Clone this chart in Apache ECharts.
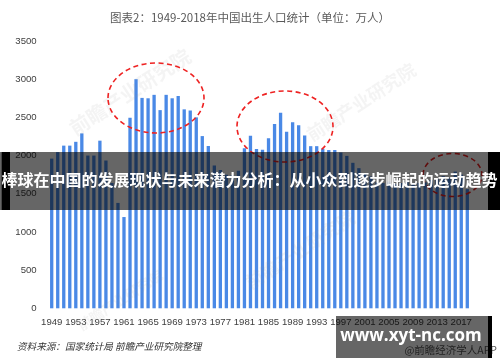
<!DOCTYPE html>
<html>
<head>
<meta charset="utf-8">
<script src="https://cdn.jsdelivr.net/npm/echarts@6/dist/echarts.min.js"></script>
<style>
html,body{margin:0;padding:0;background:#fff;}
#chart{width:500px;height:362px;}
</style>
</head>
<body>
<div id="chart"></div>
<script>
// ---- data ----
var years = [];
for (var y = 1949; y <= 2018; y++) { years.push(String(y)); }
var births = [
  1960, 2045, 2130, 2130, 2180, 2290, 2000, 2000, 2195, 1935,
  1640, 1380, 1195, 2495, 3000, 2755, 2750, 2795, 2595, 2795,
  2750, 2780, 2605, 2590, 2500, 2255, 2125, 1870, 1810, 1750,
  1745, 1800, 2095, 2260, 2085, 2075, 2228, 2412, 2560, 2313,
  2435, 2397, 2263, 2123, 2123, 2090, 2072, 2073, 2040, 1996,
  1905, 1835, 1770, 1725, 1650, 1640, 1660, 1630, 1640, 1650,
  1640, 1640, 1650, 1680, 1690, 1730, 1700, 1790, 1750, 1560
];
var yTicks = [0, 500, 1000, 1500, 2000, 2500, 3000, 3500];
var titleText = '图表2：1949-2018年中国出生人口统计（单位：万人）';
var sourceText = '资料来源：国家统计局 前瞻产业研究院整理';
var bannerText = '棒球在中国的发展现状与未来潜力分析：从小众到逐步崛起的运动趋势';
var siteText = 'www.xyt-nc.com';
var appText = '@前瞻经济学人APP';
var watermarkText = '前瞻产业研究院';

var chart = echarts.init(document.getElementById('chart'), null, {renderer: 'canvas'});

var dashRed = {stroke: '#ee2222', fill: 'none', lineWidth: 1.6, lineDash: [5, 3.5]};

function wm(x, y, size) {
  return {
    type: 'text', x: x, y: y, rotation: 33 * Math.PI / 180, z: 50, silent: true,
    style: {text: watermarkText, fill: 'rgba(150,150,150,0.10)', font: 'bold ' + size + 'px "Noto Sans CJK SC"', align: 'center', verticalAlign: 'middle'}
  };
}

var option = {
  animation: false,
  backgroundColor: '#ffffff',
  title: {
    text: titleText,
    left: 'center',
    top: 7,
    textStyle: {fontSize: 11.5, fontWeight: 'normal', color: '#595959', fontFamily: '"Noto Sans CJK SC", sans-serif'}
  },
  grid: {left: 48.7, right: 29.7, top: 41, bottom: 53.7, containLabel: false},
  xAxis: {
    type: 'category',
    data: years,
    axisLine: {show: false},
    axisTick: {show: false},
    axisLabel: {interval: 3, margin: 9, fontSize: 9.6, color: '#404040', fontFamily: '"Liberation Sans", Arial, sans-serif'}
  },
  yAxis: {
    type: 'value',
    min: yTicks[0],
    max: yTicks[yTicks.length - 1],
    interval: yTicks[1] - yTicks[0],
    axisLine: {show: false},
    axisTick: {show: false},
    splitLine: {show: false},
    axisLabel: {margin: 12, fontSize: 9.6, color: '#404040', fontFamily: '"Liberation Sans", Arial, sans-serif',
      formatter: function (v) { return String(v); }}
  },
  series: [{
    type: 'bar',
    data: births,
    barWidth: '55%',
    itemStyle: {color: '#4a89e6'}
  }],
  graphic: [
    wm(130, 92, 20),
    wm(361, 102, 18),
    wm(300, 250, 18),
    wm(120, 300, 14),
    {type: 'ellipse', z: 60, silent: true, shape: {cx: 156, cy: 98, rx: 48, ry: 35}, style: dashRed},
    {type: 'ellipse', z: 60, silent: true, shape: {cx: 285, cy: 126.5, rx: 48, ry: 35.5}, style: dashRed},
    {type: 'ellipse', z: 60, silent: true, shape: {cx: 452.5, cy: 175, rx: 29.5, ry: 21.5}, style: dashRed},
    // banner overlay
    {type: 'rect', z: 100, silent: true, shape: {x: 0, y: 152, width: 500, height: 58}, style: {fill: 'rgba(0,0,0,0.6)'}},
    {type: 'rect', z: 101, silent: true, shape: {x: 1.7, y: 152, width: 8.3, height: 58}, style: {fill: '#000'}},
    {type: 'rect', z: 101, silent: true, shape: {x: 488, y: 152, width: 12, height: 58}, style: {fill: '#000'}},
    {type: 'text', z: 102, silent: true, x: 249.5, y: 180,
      style: {text: bannerText, fill: '#ffffff', font: 'bold 16px "Noto Sans CJK SC"', align: 'center', verticalAlign: 'middle'}},
    // footer
    {type: 'text', z: 90, silent: true, x: 17, y: 346,
      style: {text: sourceText, fill: '#333333', font: 'italic 9.6px "Noto Sans CJK SC"', align: 'left', verticalAlign: 'middle'}},
    // site box
    {type: 'text', z: 99, silent: true, x: 497, y: 350,
      style: {text: appText, fill: '#555555', font: '10.5px "Noto Sans CJK SC"', align: 'right', verticalAlign: 'middle'}},
    {type: 'rect', z: 100, silent: true, shape: {x: 336, y: 316, width: 152, height: 42}, style: {fill: 'rgba(0,0,0,0.6)'}},
    {type: 'rect', z: 101, silent: true, shape: {x: 488, y: 316, width: 4, height: 42}, style: {fill: '#000'}},
    {type: 'text', z: 102, silent: true, x: 411, y: 336,
      style: {text: siteText, fill: '#ffffff', font: 'bold 17px "Open Sans", "DejaVu Sans", sans-serif', align: 'center', verticalAlign: 'middle'}}
  ]
};
chart.setOption(option);
</script>
</body>
</html>
